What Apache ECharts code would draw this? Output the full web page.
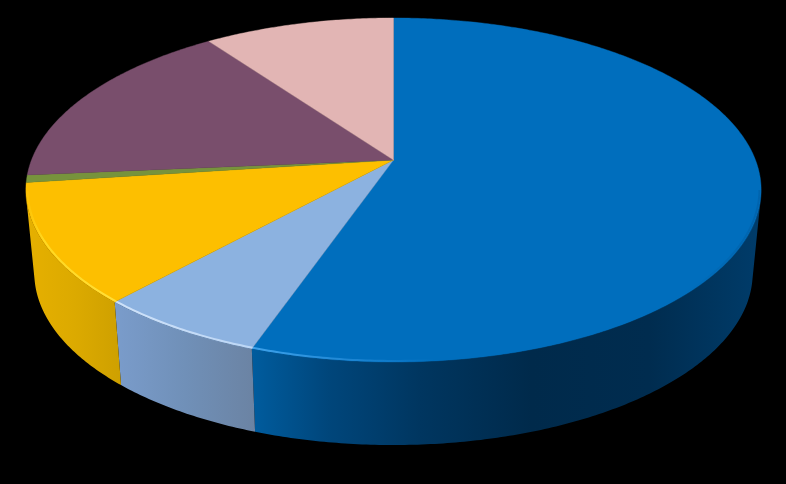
<!DOCTYPE html>
<html>
<head>
<meta charset="utf-8">
<style>html,body{margin:0;padding:0;background:#000}#c{width:786px;height:484px}</style>
<script src="https://cdn.jsdelivr.net/npm/echarts@6/dist/echarts.min.js"></script>
</head>
<body>
<div id="c"></div>
<script>
// Slice shares (percent), clockwise from 12 o'clock
const sliceNames = ['A', 'B', 'C', 'D', 'E', 'F'];
const sliceValues = [55.3, 6.4, 11.2, 0.7, 16.5, 9.9];
const topColors = ['#006ebd', '#8cb2e0', '#fdbf00', '#77933c', '#794e6c', '#e2b5b4'];
const wallStops = [
  [[0, '#005c9e'], [0.15, '#00467b'], [0.33, '#003660'], [0.55, '#002a4b'], [0.78, '#002c4f'], [1, '#003c6a']],
  [[0, '#7a9ccb'], [0.5, '#7090b8'], [1, '#6b83a3']],
  [[0, '#e6b000'], [0.5, '#dcaa00'], [1, '#cea000']],
  null, null, null
];
const rimStops = [
  [[0, '#3fa2ea'], [0.1, '#2f95e0'], [0.3, '#0a76c6'], [0.36, '#006ebd'], [0.85, '#006ebd'], [1, '#0064ae']],
  [[0, '#cfe2f9'], [1, '#bcd6f5']],
  [[0, '#fdbf00'], [0.2, '#ffd820'], [1, '#ffdf3a']],
  null, null, null
];

// Projection of the disc on the page (perspective view)
const apex = [393.5, 160], scaleX = 362, scaleY = 166.8, persp = 0.1744;
const depth = 83, bottomShrink = 0.977, rimFromY = 190;

function project(a, r) {
  const u = Math.sin(a) * r, v = -Math.cos(a) * r;
  const w = 1 - persp * v;
  return [apex[0] + scaleX * u / w, apex[1] + scaleY * v / w];
}
function arc(start, end, r) {
  const n = Math.max(4, Math.ceil((end - start) / 0.01)), pts = [];
  for (let i = 0; i <= n; i++) pts.push(project(start + (end - start) * i / n, r));
  return pts;
}
function down(p) {
  return [apex[0] + (p[0] - apex[0]) * bottomShrink, p[1] + depth];
}
// Keep only the part of the rim that faces the viewer, so the side edge is the
// straight tangent between the top and bottom discs.
function facing(a) {
  const out = [];
  for (let k = 0; k < a.length - 1; k++) {
    const d = down(a[k]);
    const cross = (a[k + 1][0] - a[k][0]) * (d[1] - a[k][1]) - (a[k + 1][1] - a[k][1]) * (d[0] - a[k][0]);
    if (cross < 0) {
      if (!out.length || out[out.length - 1] !== a[k]) out.push(a[k]);
      out.push(a[k + 1]);
    }
  }
  return out;
}
const total = sliceValues.reduce((s, v) => s + v, 0);
function span(i) {
  let sum = 0;
  for (let k = 0; k < i; k++) sum += sliceValues[k];
  return [sum / total * Math.PI * 2, (sum + sliceValues[i]) / total * Math.PI * 2];
}
function grad(stops) {
  return new echarts.graphic.LinearGradient(0, 0, 1, 0,
    stops.map(s => ({ offset: s[0], color: s[1] })));
}
const seriesData = sliceValues.map((v, i) => ({ name: sliceNames[i], value: v }));

const chart = echarts.init(document.getElementById('c'), null, { renderer: 'canvas', width: 786, height: 484 });
chart.setOption({
  backgroundColor: '#000',
  animation: false,
  series: [
    {
      type: 'custom', coordinateSystem: 'none', z: 1, silent: true, data: seriesData,
      renderItem(params) {
        const i = params.dataIndex;
        if (!wallStops[i]) return { type: 'group', children: [] };
        const s = span(i), a = facing(arc(s[0], s[1], 1));
        const pts = a.concat(a.slice().reverse().map(down));
        return { type: 'polygon', shape: { points: pts }, style: { fill: grad(wallStops[i]) } };
      }
    },
    {
      type: 'custom', coordinateSystem: 'none', z: 2, silent: true, data: seriesData,
      renderItem(params) {
        const i = params.dataIndex, s = span(i), a = arc(s[0], s[1], 1);
        const children = [{
          type: 'polygon',
          shape: { points: [apex].concat(a) },
          style: { fill: topColors[i], stroke: topColors[i], lineWidth: 0.4 }
        }];
        if (rimStops[i]) {
          const rim = arc(s[0], s[1], 0.9955).filter(p => p[1] > rimFromY);
          children.push({
            type: 'polyline',
            shape: { points: rim },
            style: { fill: null, stroke: grad(rimStops[i]), lineWidth: 2 }
          });
        }
        return { type: 'group', children };
      }
    }
  ]
});
</script>
</body>
</html>
